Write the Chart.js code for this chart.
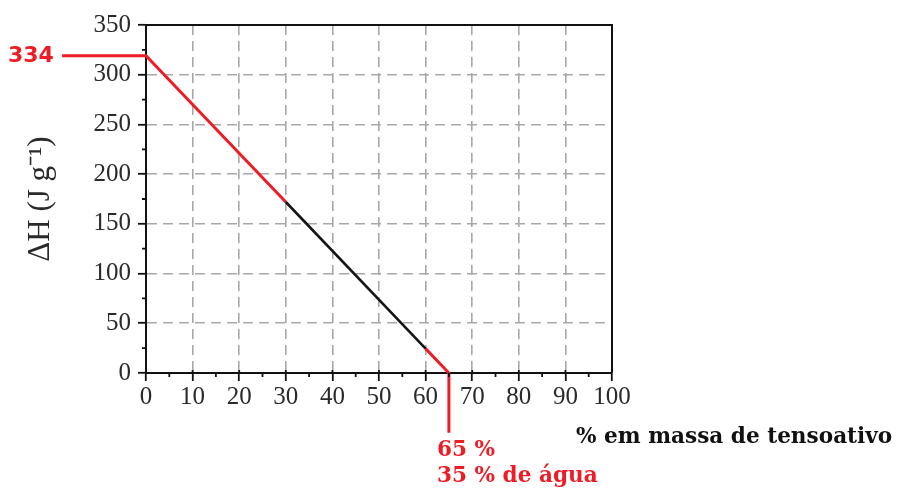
<!DOCTYPE html>
<html><head><meta charset="utf-8">
<script src="https://cdn.jsdelivr.net/npm/chart.js@4/dist/chart.umd.min.js"></script>
<style>html,body{margin:0;padding:0;background:#fff}#wrap{width:899px;height:489px;position:relative}canvas{display:block}</style>
</head><body><div id="wrap"><canvas id="c" width="899" height="489" style="width:899px;height:489px"></canvas></div>
<script>
// ---- data ----
const xTickValues = [0,10,20,30,40,50,60,70,80,90,100];
const yTickValues = [0,50,100,150,200,250,300,350];
const xMinorTicks = [5,15,25,35,45,55,65,75,85,95];
const yMinorTicks = [25,75,125,175,225,275,325];
// red guide line (left part): from label "334" along the plateau and down to 30 %
const redLeftX = [-18, 0, 30];
const redLeftY = [319, 319, 172];
// black measured segment
const blackX = [30, 60];
const blackY = [172, 24.5];
// red guide line (right part): down to 65 % and below the axis to the labels
const redRightX = [60, 65, 65];
const redRightY = [24.5, 0, -60];
const yTitle = 'ΔH (J g⁻¹)';
const xTitle = '% em massa de tensoativo';
const label334 = '334';
const label65 = '65 %';
const labelWater = '35 % de água';

const RED = '#ee1d25';
const toPts = (xs, ys) => xs.map((x, i) => ({x, y: ys[i]}));

const extras = {
  id: 'extras',
  afterDraw(chart) {
    const {ctx, chartArea: a, scales: {x, y}} = chart;
    ctx.save();
    // frame top/right
    ctx.strokeStyle = '#111'; ctx.lineWidth = 2;
    ctx.beginPath();
    ctx.moveTo(a.left, a.top); ctx.lineTo(a.right, a.top); ctx.lineTo(a.right, a.bottom);
    ctx.stroke();
    // minor ticks
    ctx.lineWidth = 1.8;
    ctx.beginPath();
    xMinorTicks.forEach(v => { const px = x.getPixelForValue(v); ctx.moveTo(px, a.bottom); ctx.lineTo(px, a.bottom + 4); });
    yMinorTicks.forEach(v => { const py = y.getPixelForValue(v); ctx.moveTo(a.left, py); ctx.lineTo(a.left - 4, py); });
    // major x ticks poke slightly into the plot
    xTickValues.forEach(v => { const px = x.getPixelForValue(v); ctx.moveTo(px, a.bottom); ctx.lineTo(px, a.bottom - 3); });
    ctx.stroke();
    // labels
    ctx.fillStyle = RED;
    ctx.textBaseline = 'middle';
    ctx.textAlign = 'left';
    ctx.font = 'bold 22px "DejaVu Sans"';
    ctx.fillText(label334, 8, y.getPixelForValue(redLeftY[0]));
    ctx.textBaseline = 'alphabetic';
    ctx.font = 'bold 21.6px "DejaVu Serif"';
    ctx.fillText(label65, 437, 456);
    ctx.fillText(labelWater, 437, 482);
    ctx.fillStyle = '#111';
    ctx.fillText(xTitle, 576, 443);
    ctx.restore();
  }
};

new Chart(document.getElementById('c'), {
  type: 'line',
  data: {
    datasets: [
      { data: toPts(blackX, blackY), borderColor: '#151515', borderWidth: 2.6, pointRadius: 0, clip: false, order: 0 },
      { data: toPts(redLeftX, redLeftY), borderColor: RED, borderWidth: 3, pointRadius: 0, clip: false, order: 1 },
      { data: toPts(redRightX, redRightY), borderColor: RED, borderWidth: 3, pointRadius: 0, clip: false, order: 1 }
    ]
  },
  options: {
    responsive: false,
    animation: false,
    devicePixelRatio: 1,
    layout: { padding: { top: 25, right: 287, left: 0, bottom: 0 } },
    plugins: { legend: { display: false }, tooltip: { enabled: false } },
    scales: {
      x: {
        type: 'linear', min: 0, max: 100,
        afterBuildTicks: s => { s.ticks = xTickValues.map(v => ({value: v})); },
        afterFit: s => { s.height = 116; },
        ticks: { color: '#2a2a2a', font: { family: '"Liberation Serif"', size: 25 }, padding: 1, maxRotation: 0, autoSkip: false },
        grid: {
          color: c => (c.tick && (c.tick.value === 0 || c.tick.value === 100)) ? 'rgba(0,0,0,0)' : '#a8a8a8',
          lineWidth: 1.6, tickColor: '#111', tickLength: 8, tickWidth: 1.8, tickBorderDash: []
        },
        border: { color: '#111', width: 2, dash: [10, 6] }
      },
      y: {
        type: 'linear', min: 0, max: 350,
        afterBuildTicks: s => { s.ticks = yTickValues.map(v => ({value: v})); },
        afterFit: s => { s.width = 146; },
        ticks: { color: '#2a2a2a', font: { family: '"Liberation Serif"', size: 25 }, padding: 7, autoSkip: false },
        grid: {
          color: c => (c.tick && (c.tick.value === 0 || c.tick.value === 350)) ? 'rgba(0,0,0,0)' : '#a8a8a8',
          lineWidth: 1.6, tickColor: '#111', tickLength: 8, tickWidth: 1.8, tickBorderDash: []
        },
        border: { color: '#111', width: 2, dash: [10, 6] },
        title: { display: true, text: yTitle, color: '#2a2a2a', font: { family: '"Liberation Serif"', size: 31 }, padding: { top: 22, bottom: 0 } }
      }
    }
  },
  plugins: [extras]
});
</script>
</body></html>
